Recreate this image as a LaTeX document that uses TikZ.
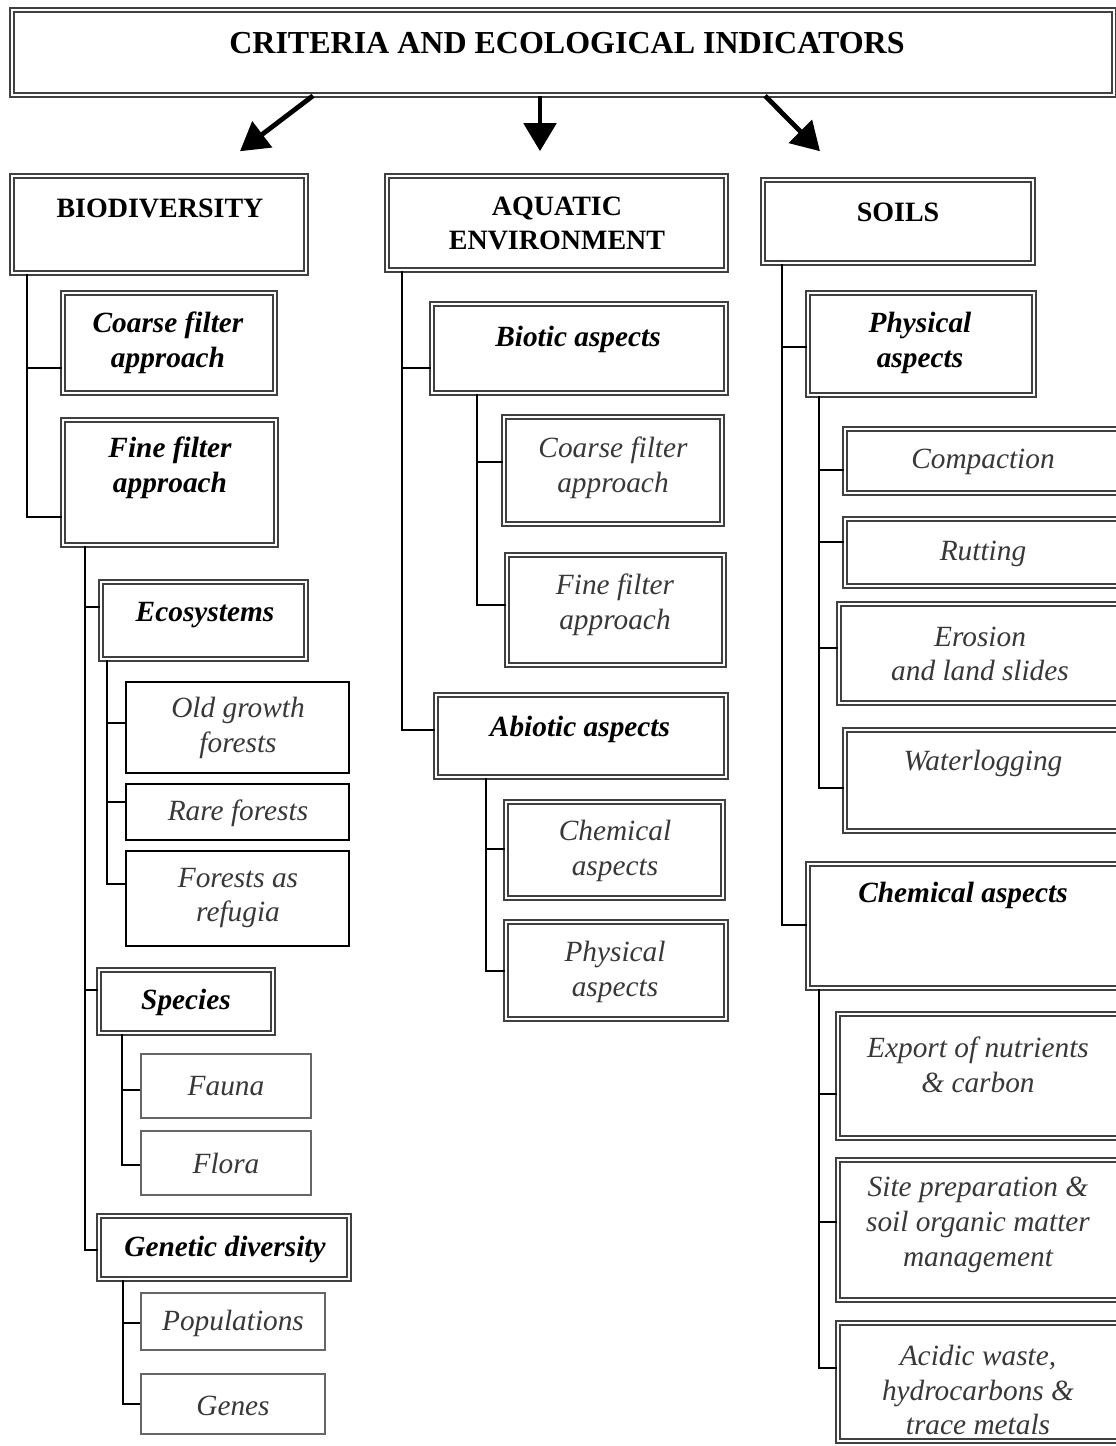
\documentclass[tikz,border=0pt]{standalone}
\usepackage{fontspec}
\setmainfont{Liberation Serif}
\usetikzlibrary{fit,calc,arrows.meta}
\begin{document}
\begin{tikzpicture}[x=0.75pt,y=-0.75pt,
  dbox/.style={draw=black!75, line width=1.15pt, double=white, double distance=1.5pt, inner sep=0pt},
  sbox/.style={draw=black, line width=1.3pt, inner sep=0pt},
  gbox/.style={draw=black!60, line width=1.8pt, inner sep=0pt},
  hd/.style={font=\fontsize{24}{28}\selectfont\bfseries, inner sep=0pt},
  sec/.style={font=\fontsize{21}{25.5}\selectfont\bfseries, align=center, inner sep=0pt},
  bi/.style={font=\fontsize{22}{26}\selectfont\bfseries\itshape, align=center, inner sep=0pt},
  it/.style={font=\fontsize{22}{26}\selectfont\itshape, text=black!78, align=center, inner sep=0pt},
  conn/.style={line width=2pt, black},
  arr/.style={line width=3.6pt, -{Triangle[length=21pt,width=24pt]}},
]
\useasboundingbox (0,0) rectangle (1116,1446);
\fill[white] (0,0) rectangle (1116,1446);
\clip (0,0) rectangle (1116,1446);

% ---- boxes ----
\node[dbox, fit={(12,10) (1114,95)}] (hdr) {};
\node[dbox, fit={(12,176) (306,273)}] (bio) {};
\node[dbox, fit={(387,176) (726,270)}] (aqu) {};
\node[dbox, fit={(763,180) (1033,263)}] (soi) {};

\node[dbox, fit={(63,293) (275,393)}] (bcf) {};
\node[dbox, fit={(63,420) (276,545)}] (bff) {};
\node[dbox, fit={(101,582) (306,659)}] (eco) {};
\node[dbox, fit={(99,970) (273,1033)}] (spe) {};
\node[dbox, fit={(99,1216) (349,1279)}] (gen) {};
\node[sbox, fit={(126,682) (349,773)}] (old) {};
\node[sbox, fit={(126,784) (349,840)}] (rar) {};
\node[sbox, fit={(126,851) (349,946)}] (ref) {};
\node[gbox, fit={(141,1054) (311,1118)}] (fau) {};
\node[gbox, fit={(141,1131) (311,1195)}] (flo) {};
\node[gbox, fit={(141,1293) (325,1350)}] (pop) {};
\node[gbox, fit={(141,1374) (325,1434)}] (gne) {};

\node[dbox, fit={(432,304) (726,393)}] (bioa) {};
\node[dbox, fit={(436,695) (726,777)}] (abi) {};
\node[dbox, fit={(504,417) (722,524)}] (acf) {};
\node[dbox, fit={(507,555) (724,665)}] (aff) {};
\node[dbox, fit={(506,802) (723,898)}] (ach) {};
\node[dbox, fit={(506,922) (726,1019)}] (aph) {};

\node[dbox, fit={(808,293) (1034,395)}] (sph) {};
\node[dbox, fit={(808,864) (1122,988)}] (sch) {};
\node[dbox, fit={(845,429) (1122,493)}] (com) {};
\node[dbox, fit={(845,519) (1122,586)}] (rut) {};
\node[dbox, fit={(839,604) (1122,703)}] (ero) {};
\node[dbox, fit={(845,730) (1122,831)}] (wat) {};
\node[dbox, fit={(838,1014) (1122,1138)}] (exp) {};
\node[dbox, fit={(838,1160) (1122,1300)}] (sit) {};
\node[dbox, fit={(838,1323) (1122,1441)}] (aci) {};

% ---- texts ----
\node[hd] (hdr-t) at (567,43) {CRITERIA AND ECOLOGICAL INDICATORS};
\node[sec] (bio-t) at (160,208) {BIODIVERSITY};
\node[sec] (aqu-t) at (557,223) {AQUATIC\\ENVIRONMENT};
\node[sec] (soi-t) at (898,212) {SOILS};

\node[bi] (bcf-t) at (168,343) {Coarse filter\\approach};
\node[bi] (bff-t) at (170,468) {Fine filter\\approach};
\node[bi] (eco-t) at (205,615) {Ecosystems};
\node[bi] (spe-t) at (186,1002) {Species};
\node[bi] (gen-t) at (225,1249) {Genetic diversity};
\node[it] (old-t) at (238,728) {Old growth\\forests};
\node[it] (rar-t) at (238,813) {Rare forests};
\node[it] (ref-t) at (238,898) {Forests as\\refugia};
\node[it] (fau-t) at (226,1086) {Fauna};
\node[it] (flo-t) at (226,1163) {Flora};
\node[it] (pop-t) at (233,1323) {Populations};
\node[it] (gne-t) at (233,1406) {Genes};

\node[bi] (bioa-t) at (578,339) {Biotic aspects};
\node[bi] (abi-t) at (580,729) {Abiotic aspects};
\node[it] (acf-t) at (613,468) {Coarse filter\\approach};
\node[it] (aff-t) at (615,605) {Fine filter\\approach};
\node[it] (ach-t) at (615,851) {Chemical\\aspects};
\node[it] (aph-t) at (615,972) {Physical\\aspects};

\node[bi] (sph-t) at (920,343) {Physical\\aspects};
\node[bi] (sch-t) at (963,895) {Chemical aspects};
\node[it] (com-t) at (983,462) {Compaction};
\node[it] (rut-t) at (983,554) {Rutting};
\node[it] (ero-t) at (980,654) {Erosion\\and land slides};
\node[it] (wat-t) at (983,763) {Waterlogging};
\node[it] (exp-t) at (978,1065) {Export of nutrients\\\& carbon};
\node[it] (sit-t) at (978,1225) {Site preparation \&\\soil organic matter\\management};
\node[it] (aci-t) at (978,1390) {Acidic waste,\\hydrocarbons \&\\trace metals};

% ---- arrows ----
\draw[arr] (313,0 |- hdr.south) -- ($(bio.north)+(81,-24)$);
\draw[arr] (540,0 |- hdr.south) -- ($(540,0 |- aqu.north)+(0,-24)$);
\draw[arr] (765,0 |- hdr.south) -- ($(soi.north)+(-78,-28)$);

% ---- connectors ----
\draw[conn] (27,0 |- bio.south) |- (bcf.west |- 0,368);
\draw[conn] (27,0 |- bio.south) |- (bff.west |- 0,517);

\draw[conn] (85,0 |- bff.south) |- (eco.west |- 0,607);
\draw[conn] (85,0 |- bff.south) |- (spe.west |- 0,990);
\draw[conn] (85,0 |- bff.south) |- (gen.west |- 0,1250);

\draw[conn] (107,0 |- eco.south) |- (old.west |- 0,723);
\draw[conn] (107,0 |- eco.south) |- (rar.west |- 0,802);
\draw[conn] (107,0 |- eco.south) |- (ref.west |- 0,884);

\draw[conn] (122,0 |- spe.south) |- (fau.west |- 0,1090);
\draw[conn] (122,0 |- spe.south) |- (flo.west |- 0,1165);

\draw[conn] (123,0 |- gen.south) |- (pop.west |- 0,1323);
\draw[conn] (123,0 |- gen.south) |- (gne.west |- 0,1404);

\draw[conn] (402,0 |- aqu.south) |- (bioa.west |- 0,368);
\draw[conn] (402,0 |- aqu.south) |- (abi.west |- 0,730);

\draw[conn] (477,0 |- bioa.south) |- (acf.west |- 0,462);
\draw[conn] (477,0 |- bioa.south) |- (aff.west |- 0,605);

\draw[conn] (486,0 |- abi.south) |- (ach.west |- 0,849);
\draw[conn] (486,0 |- abi.south) |- (aph.west |- 0,971);

\draw[conn] (782,0 |- soi.south) |- (sph.west |- 0,347);
\draw[conn] (782,0 |- soi.south) |- (sch.west |- 0,925);

\draw[conn] (819,0 |- sph.south) |- (com.west |- 0,470);
\draw[conn] (819,0 |- sph.south) |- (rut.west |- 0,542);
\draw[conn] (819,0 |- sph.south) |- (ero.west |- 0,648);
\draw[conn] (819,0 |- sph.south) |- (wat.west |- 0,788);

\draw[conn] (819,0 |- sch.south) |- (exp.west |- 0,1094);
\draw[conn] (819,0 |- sch.south) |- (sit.west |- 0,1222);
\draw[conn] (819,0 |- sch.south) |- (aci.west |- 0,1368);
\end{tikzpicture}
\end{document}
